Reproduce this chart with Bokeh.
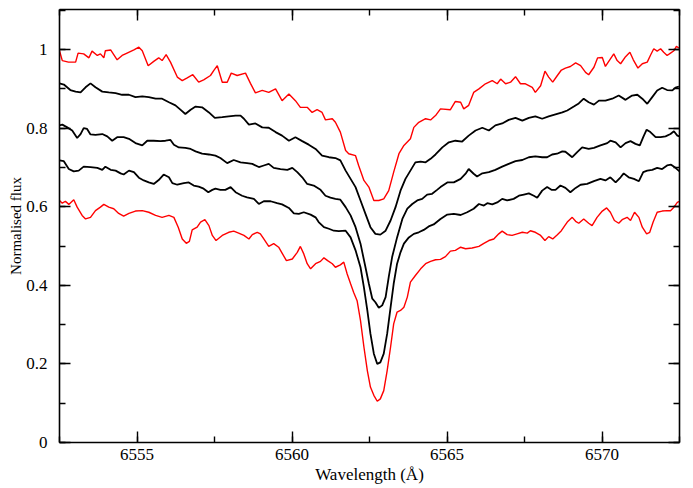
from bokeh.plotting import figure
from bokeh.models import (LinearAxis, SingleIntervalTicker, CustomJSTickFormatter, Range1d,
                          CustomLabelingPolicy)
from bokeh.embed import file_html
from bokeh.resources import INLINE

# ---- data: (wavelength in Angstrom, normalised flux) ----
red_top = [
    (6552.50, 0.997), (6552.59, 0.972), (6552.79, 0.968), (6553.02, 0.968), (6553.10, 0.991),
    (6553.28, 0.989), (6553.45, 0.979), (6553.55, 0.996), (6553.72, 0.985), (6553.82, 0.989),
    (6553.93, 0.979), (6553.98, 0.997), (6554.15, 0.999), (6554.36, 0.974), (6554.52, 0.985),
    (6554.68, 0.991), (6554.90, 0.999), (6555.06, 1.006), (6555.17, 0.997), (6555.36, 0.959),
    (6555.54, 0.970), (6555.70, 0.979), (6555.81, 0.972), (6555.94, 0.987), (6556.08, 0.968),
    (6556.30, 0.930), (6556.46, 0.921), (6556.62, 0.928), (6556.80, 0.936), (6556.99, 0.917),
    (6557.15, 0.923), (6557.37, 0.934), (6557.48, 0.947), (6557.59, 0.959), (6557.75, 0.917),
    (6557.91, 0.917), (6558.04, 0.940), (6558.23, 0.934), (6558.50, 0.940), (6558.66, 0.914),
    (6558.82, 0.890), (6559.04, 0.896), (6559.25, 0.891), (6559.47, 0.900), (6559.68, 0.870),
    (6559.90, 0.887), (6560.11, 0.870), (6560.27, 0.853), (6560.49, 0.853), (6560.65, 0.840),
    (6560.81, 0.847), (6560.97, 0.840), (6561.08, 0.821), (6561.30, 0.824), (6561.40, 0.815),
    (6561.56, 0.790), (6561.73, 0.743), (6561.83, 0.735), (6562.05, 0.730), (6562.15, 0.705),
    (6562.32, 0.667), (6562.48, 0.650), (6562.64, 0.616), (6562.80, 0.616), (6562.96, 0.620),
    (6563.12, 0.641), (6563.28, 0.688), (6563.45, 0.735), (6563.61, 0.756), (6563.82, 0.773),
    (6563.93, 0.802), (6564.09, 0.815), (6564.31, 0.824), (6564.47, 0.821), (6564.63, 0.832),
    (6564.79, 0.849), (6565.11, 0.847), (6565.27, 0.868), (6565.44, 0.866), (6565.54, 0.849),
    (6565.70, 0.858), (6565.86, 0.891), (6566.03, 0.900), (6566.24, 0.913), (6566.46, 0.921),
    (6566.62, 0.913), (6566.73, 0.925), (6566.89, 0.913), (6567.05, 0.917), (6567.21, 0.931),
    (6567.37, 0.913), (6567.53, 0.913), (6567.75, 0.904), (6567.85, 0.891), (6568.02, 0.908),
    (6568.16, 0.945), (6568.28, 0.930), (6568.41, 0.917), (6568.56, 0.934), (6568.69, 0.948),
    (6568.82, 0.953), (6568.98, 0.957), (6569.15, 0.966), (6569.31, 0.959), (6569.47, 0.942),
    (6569.57, 0.936), (6569.74, 0.955), (6569.86, 0.979), (6570.01, 0.980), (6570.11, 0.957),
    (6570.25, 0.974), (6570.38, 0.989), (6570.49, 0.972), (6570.60, 0.964), (6570.76, 0.982),
    (6570.90, 0.993), (6571.01, 0.974), (6571.16, 0.953), (6571.30, 0.964), (6571.46, 0.968),
    (6571.56, 0.985), (6571.67, 1.002), (6571.78, 0.996), (6571.89, 1.002), (6571.99, 0.993),
    (6572.10, 0.985), (6572.21, 0.991), (6572.32, 0.997), (6572.40, 1.008), (6572.48, 1.004),
]

black_1 = [
    (6552.50, 0.914), (6552.64, 0.911), (6552.85, 0.897), (6553.02, 0.893), (6553.18, 0.891),
    (6553.34, 0.904), (6553.50, 0.914), (6553.66, 0.904), (6553.88, 0.893), (6554.09, 0.891),
    (6554.31, 0.889), (6554.52, 0.885), (6554.74, 0.885), (6554.95, 0.879), (6555.17, 0.881),
    (6555.38, 0.879), (6555.60, 0.875), (6555.81, 0.875), (6556.03, 0.866), (6556.24, 0.858),
    (6556.40, 0.847), (6556.56, 0.836), (6556.73, 0.847), (6556.89, 0.855), (6557.10, 0.853),
    (6557.32, 0.840), (6557.51, 0.826), (6557.75, 0.828), (6557.96, 0.830), (6558.18, 0.832),
    (6558.34, 0.832), (6558.45, 0.824), (6558.61, 0.809), (6558.82, 0.812), (6559.04, 0.802),
    (6559.25, 0.801), (6559.47, 0.790), (6559.68, 0.781), (6559.90, 0.768), (6560.11, 0.777),
    (6560.33, 0.767), (6560.54, 0.758), (6560.76, 0.747), (6560.97, 0.730), (6561.19, 0.726),
    (6561.40, 0.724), (6561.56, 0.718), (6561.73, 0.692), (6561.89, 0.671), (6562.05, 0.650),
    (6562.21, 0.616), (6562.37, 0.582), (6562.53, 0.548), (6562.69, 0.531), (6562.85, 0.529),
    (6563.02, 0.539), (6563.18, 0.565), (6563.34, 0.599), (6563.50, 0.641), (6563.66, 0.671),
    (6563.82, 0.692), (6563.98, 0.713), (6564.15, 0.715), (6564.31, 0.713), (6564.47, 0.722),
    (6564.63, 0.733), (6564.85, 0.751), (6565.06, 0.764), (6565.27, 0.768), (6565.49, 0.766),
    (6565.70, 0.781), (6565.92, 0.794), (6566.14, 0.801), (6566.35, 0.794), (6566.56, 0.807),
    (6566.78, 0.812), (6566.99, 0.821), (6567.21, 0.826), (6567.43, 0.819), (6567.64, 0.826),
    (6567.85, 0.830), (6568.07, 0.824), (6568.28, 0.830), (6568.50, 0.835), (6568.72, 0.840),
    (6568.88, 0.845), (6569.09, 0.855), (6569.25, 0.863), (6569.41, 0.875), (6569.57, 0.866),
    (6569.74, 0.860), (6569.90, 0.870), (6570.11, 0.870), (6570.33, 0.875), (6570.54, 0.883),
    (6570.76, 0.872), (6570.97, 0.883), (6571.14, 0.885), (6571.30, 0.875), (6571.46, 0.862),
    (6571.62, 0.879), (6571.78, 0.896), (6571.94, 0.903), (6572.10, 0.897), (6572.27, 0.896),
    (6572.37, 0.903), (6572.48, 0.906),
]

black_2 = [
    (6552.50, 0.807), (6552.59, 0.809), (6552.75, 0.802), (6552.91, 0.794), (6553.07, 0.775),
    (6553.18, 0.785), (6553.28, 0.800), (6553.39, 0.798), (6553.50, 0.784), (6553.66, 0.783),
    (6553.88, 0.785), (6554.04, 0.779), (6554.20, 0.768), (6554.36, 0.777), (6554.57, 0.777),
    (6554.74, 0.773), (6554.95, 0.762), (6555.17, 0.756), (6555.33, 0.768), (6555.54, 0.768),
    (6555.76, 0.767), (6555.92, 0.768), (6556.08, 0.770), (6556.19, 0.758), (6556.35, 0.751),
    (6556.56, 0.750), (6556.73, 0.747), (6556.89, 0.741), (6557.10, 0.735), (6557.32, 0.733),
    (6557.53, 0.730), (6557.69, 0.724), (6557.91, 0.711), (6558.12, 0.719), (6558.34, 0.713),
    (6558.55, 0.711), (6558.72, 0.709), (6558.93, 0.701), (6559.09, 0.705), (6559.25, 0.709),
    (6559.41, 0.699), (6559.63, 0.696), (6559.85, 0.694), (6560.01, 0.699), (6560.17, 0.688),
    (6560.33, 0.675), (6560.49, 0.658), (6560.70, 0.654), (6560.92, 0.643), (6561.08, 0.628),
    (6561.24, 0.623), (6561.40, 0.620), (6561.56, 0.618), (6561.73, 0.599), (6561.89, 0.578),
    (6562.05, 0.548), (6562.21, 0.506), (6562.37, 0.446), (6562.48, 0.404), (6562.59, 0.366),
    (6562.69, 0.357), (6562.80, 0.343), (6562.91, 0.349), (6563.02, 0.370), (6563.12, 0.421),
    (6563.23, 0.472), (6563.39, 0.522), (6563.56, 0.569), (6563.72, 0.595), (6563.88, 0.607),
    (6564.04, 0.616), (6564.20, 0.620), (6564.36, 0.631), (6564.52, 0.633), (6564.68, 0.643),
    (6564.79, 0.650), (6565.01, 0.662), (6565.22, 0.662), (6565.44, 0.671), (6565.60, 0.684),
    (6565.70, 0.696), (6565.86, 0.684), (6565.97, 0.677), (6566.14, 0.685), (6566.35, 0.688),
    (6566.56, 0.694), (6566.78, 0.702), (6566.99, 0.709), (6567.21, 0.716), (6567.43, 0.719),
    (6567.64, 0.726), (6567.85, 0.728), (6568.07, 0.726), (6568.23, 0.726), (6568.39, 0.733),
    (6568.55, 0.735), (6568.72, 0.741), (6568.82, 0.740), (6569.04, 0.726), (6569.20, 0.739),
    (6569.36, 0.751), (6569.57, 0.747), (6569.74, 0.750), (6569.95, 0.756), (6570.17, 0.762),
    (6570.27, 0.768), (6570.44, 0.764), (6570.60, 0.751), (6570.76, 0.762), (6570.92, 0.767),
    (6571.08, 0.760), (6571.22, 0.756), (6571.33, 0.777), (6571.44, 0.796), (6571.56, 0.790),
    (6571.73, 0.777), (6571.89, 0.777), (6572.05, 0.779), (6572.21, 0.785), (6572.32, 0.792),
    (6572.43, 0.781), (6572.50, 0.779),
]

black_3 = [
    (6552.50, 0.718), (6552.64, 0.716), (6552.80, 0.696), (6552.96, 0.690), (6553.12, 0.692),
    (6553.28, 0.702), (6553.50, 0.701), (6553.72, 0.699), (6553.88, 0.694), (6553.98, 0.702),
    (6554.15, 0.694), (6554.31, 0.692), (6554.47, 0.685), (6554.57, 0.682), (6554.74, 0.692),
    (6554.90, 0.688), (6555.06, 0.674), (6555.22, 0.667), (6555.38, 0.662), (6555.54, 0.658),
    (6555.70, 0.668), (6555.86, 0.682), (6556.03, 0.675), (6556.14, 0.660), (6556.30, 0.656),
    (6556.51, 0.660), (6556.67, 0.662), (6556.83, 0.654), (6556.99, 0.651), (6557.15, 0.646),
    (6557.30, 0.637), (6557.43, 0.643), (6557.53, 0.646), (6557.69, 0.643), (6557.85, 0.643),
    (6558.02, 0.650), (6558.18, 0.637), (6558.39, 0.628), (6558.55, 0.624), (6558.77, 0.620),
    (6558.93, 0.607), (6559.09, 0.614), (6559.31, 0.614), (6559.52, 0.609), (6559.68, 0.606),
    (6559.90, 0.597), (6560.06, 0.583), (6560.22, 0.582), (6560.38, 0.586), (6560.60, 0.580),
    (6560.76, 0.573), (6560.86, 0.561), (6561.03, 0.548), (6561.19, 0.544), (6561.35, 0.539),
    (6561.51, 0.538), (6561.73, 0.539), (6561.89, 0.522), (6562.05, 0.489), (6562.21, 0.446),
    (6562.32, 0.395), (6562.43, 0.336), (6562.53, 0.277), (6562.64, 0.226), (6562.75, 0.200),
    (6562.85, 0.204), (6562.96, 0.226), (6563.07, 0.277), (6563.18, 0.344), (6563.28, 0.404),
    (6563.39, 0.455), (6563.50, 0.484), (6563.61, 0.506), (6563.77, 0.522), (6563.93, 0.531),
    (6564.09, 0.535), (6564.25, 0.541), (6564.41, 0.550), (6564.57, 0.555), (6564.79, 0.569),
    (6565.01, 0.580), (6565.22, 0.582), (6565.44, 0.579), (6565.65, 0.586), (6565.86, 0.595),
    (6566.03, 0.607), (6566.19, 0.603), (6566.30, 0.609), (6566.46, 0.606), (6566.62, 0.611),
    (6566.78, 0.620), (6566.94, 0.616), (6567.15, 0.620), (6567.32, 0.628), (6567.48, 0.631),
    (6567.64, 0.634), (6567.80, 0.628), (6567.91, 0.623), (6568.07, 0.641), (6568.23, 0.650),
    (6568.37, 0.643), (6568.50, 0.643), (6568.66, 0.654), (6568.82, 0.648), (6568.98, 0.637),
    (6569.15, 0.648), (6569.31, 0.656), (6569.52, 0.658), (6569.74, 0.665), (6569.95, 0.671),
    (6570.11, 0.667), (6570.27, 0.675), (6570.44, 0.662), (6570.60, 0.675), (6570.70, 0.685),
    (6570.86, 0.675), (6571.03, 0.671), (6571.19, 0.665), (6571.33, 0.688), (6571.46, 0.692),
    (6571.62, 0.694), (6571.78, 0.699), (6571.94, 0.696), (6572.10, 0.705), (6572.23, 0.707),
    (6572.37, 0.699), (6572.50, 0.690),
]

red_bottom = [
    (6552.50, 0.616), (6552.59, 0.609), (6552.69, 0.614), (6552.80, 0.606), (6552.96, 0.618),
    (6553.07, 0.599), (6553.23, 0.578), (6553.34, 0.569), (6553.50, 0.573), (6553.66, 0.590),
    (6553.82, 0.599), (6553.93, 0.606), (6554.09, 0.599), (6554.25, 0.595), (6554.41, 0.583),
    (6554.57, 0.576), (6554.74, 0.583), (6554.95, 0.589), (6555.17, 0.590), (6555.38, 0.586),
    (6555.60, 0.578), (6555.81, 0.573), (6556.03, 0.578), (6556.19, 0.573), (6556.33, 0.548),
    (6556.46, 0.518), (6556.59, 0.507), (6556.69, 0.512), (6556.78, 0.541), (6556.94, 0.548),
    (6557.05, 0.561), (6557.19, 0.567), (6557.32, 0.552), (6557.43, 0.527), (6557.55, 0.514),
    (6557.75, 0.527), (6557.96, 0.535), (6558.12, 0.538), (6558.28, 0.533), (6558.45, 0.527),
    (6558.61, 0.518), (6558.72, 0.529), (6558.88, 0.535), (6558.98, 0.531), (6559.09, 0.518),
    (6559.25, 0.499), (6559.41, 0.506), (6559.57, 0.497), (6559.68, 0.482), (6559.82, 0.463),
    (6560.01, 0.467), (6560.17, 0.484), (6560.27, 0.499), (6560.38, 0.480), (6560.49, 0.455),
    (6560.60, 0.442), (6560.76, 0.455), (6560.92, 0.461), (6561.03, 0.470), (6561.15, 0.463),
    (6561.30, 0.455), (6561.40, 0.446), (6561.56, 0.452), (6561.67, 0.459), (6561.78, 0.429),
    (6561.89, 0.404), (6561.99, 0.382), (6562.10, 0.361), (6562.21, 0.310), (6562.32, 0.243),
    (6562.43, 0.183), (6562.53, 0.141), (6562.64, 0.120), (6562.75, 0.105), (6562.85, 0.111),
    (6562.96, 0.132), (6563.07, 0.183), (6563.18, 0.243), (6563.28, 0.302), (6563.39, 0.332),
    (6563.50, 0.336), (6563.61, 0.344), (6563.72, 0.370), (6563.82, 0.408), (6563.98, 0.425),
    (6564.15, 0.442), (6564.31, 0.455), (6564.47, 0.461), (6564.63, 0.465), (6564.79, 0.466),
    (6564.95, 0.473), (6565.11, 0.487), (6565.27, 0.489), (6565.44, 0.497), (6565.60, 0.493),
    (6565.81, 0.495), (6566.03, 0.499), (6566.19, 0.507), (6566.35, 0.514), (6566.51, 0.518),
    (6566.67, 0.531), (6566.78, 0.538), (6566.94, 0.529), (6567.10, 0.527), (6567.26, 0.531),
    (6567.43, 0.535), (6567.59, 0.533), (6567.69, 0.539), (6567.85, 0.535), (6568.02, 0.527),
    (6568.16, 0.514), (6568.28, 0.524), (6568.41, 0.518), (6568.56, 0.529), (6568.69, 0.539),
    (6568.80, 0.552), (6568.88, 0.561), (6569.04, 0.573), (6569.15, 0.563), (6569.25, 0.558),
    (6569.41, 0.569), (6569.57, 0.558), (6569.68, 0.552), (6569.84, 0.573), (6570.01, 0.589),
    (6570.15, 0.597), (6570.27, 0.586), (6570.40, 0.565), (6570.54, 0.558), (6570.65, 0.567),
    (6570.81, 0.573), (6570.92, 0.565), (6571.05, 0.586), (6571.19, 0.573), (6571.30, 0.548),
    (6571.44, 0.531), (6571.54, 0.535), (6571.65, 0.561), (6571.78, 0.586), (6571.94, 0.589),
    (6572.10, 0.590), (6572.21, 0.590), (6572.32, 0.599), (6572.43, 0.611), (6572.50, 0.614),
]

x_start, x_end = 6552.5, 6572.5
y_start, y_end = 0.0, 1.102
x_label = "Wavelength (Å)"
y_label = "Normalised flux"

FONT = "Liberation Serif"

p = figure(width=693, height=488, output_backend="svg", toolbar_location=None,
           x_range=Range1d(x_start, x_end), y_range=Range1d(y_start, y_end),
           x_axis_location=None, y_axis_location=None,
           min_border_left=59, min_border_right=14, min_border_top=9, min_border_bottom=46)
p.xgrid.visible = False
p.ygrid.visible = False
p.outline_line_color = None
p.background_fill_color = "white"
p.border_fill_color = "white"

series = [
    (red_top, "#ff0000", 1.4),
    (red_bottom, "#ff0000", 1.4),
    (black_1, "#000000", 1.8),
    (black_2, "#000000", 1.8),
    (black_3, "#000000", 1.8),
]
for data, color, lw in series:
    xs = [w for w, f in data]
    ys = [f for w, f in data]
    p.line(xs, ys, line_color=color, line_width=lw)

y_fmt = CustomJSTickFormatter(code="return Number(tick.toFixed(2)).toString();")


def style(ax, labels=True):
    ax.axis_line_color = "black"
    ax.axis_line_width = 1.6
    ax.major_tick_line_color = "black"
    ax.minor_tick_line_color = "black"
    ax.major_tick_line_width = 1.4
    ax.minor_tick_line_width = 1.4
    ax.major_tick_in = 11
    ax.major_tick_out = 0
    ax.minor_tick_in = 6
    ax.minor_tick_out = 0
    ax.major_label_text_font = FONT
    ax.major_label_text_color = "black"
    ax.axis_label_text_font = FONT
    ax.axis_label_text_font_style = "normal"
    ax.axis_label_text_color = "black"
    if not labels:
        # mirrored axis: ticks only, no labels drawn
        ax.major_label_policy = CustomLabelingPolicy(code="return new Set()")
        ax.major_label_text_font_size = "1px"
        ax.major_label_standoff = 0


xb = LinearAxis(ticker=SingleIntervalTicker(interval=5, num_minor_ticks=2))
style(xb)
xb.major_label_text_font_size = "17px"
xb.major_label_standoff = 6
xb.axis_label = x_label
xb.axis_label_text_font_size = "17px"
xb.axis_label_standoff = 2
p.add_layout(xb, "below")

xt = LinearAxis(ticker=SingleIntervalTicker(interval=5, num_minor_ticks=2))
style(xt, labels=False)
p.add_layout(xt, "above")

yl = LinearAxis(ticker=SingleIntervalTicker(interval=0.2, num_minor_ticks=2), formatter=y_fmt)
style(yl)
yl.major_label_text_font_size = "17px"
yl.major_label_standoff = 12
yl.axis_label = y_label
yl.axis_label_text_font_size = "15px"
yl.axis_label_standoff = -1
p.add_layout(yl, "left")

yr = LinearAxis(ticker=SingleIntervalTicker(interval=0.2, num_minor_ticks=2), formatter=y_fmt)
style(yr, labels=False)
p.add_layout(yr, "right")

open("out.html", "w").write(file_html(p, INLINE))
